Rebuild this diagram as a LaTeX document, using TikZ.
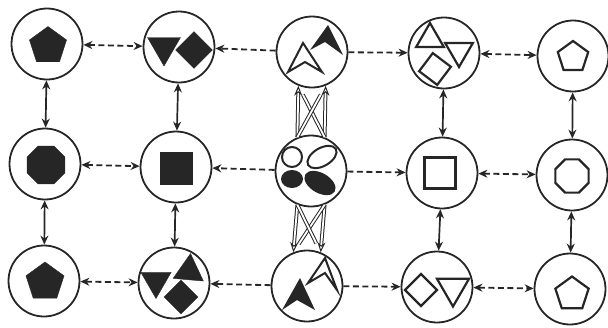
\documentclass[tikz,border=0pt]{standalone}
\usepackage{xcolor}
\usepackage{tikz}
\usetikzlibrary{shapes.geometric,positioning,calc,arrows.meta}
\definecolor{ink}{HTML}{262626}

\begin{document}
\begin{tikzpicture}[x=1pt, y=-1pt,
  ring/.style={circle, draw=ink, line width=1.8pt, minimum size=71pt, inner sep=0pt},
  fpoly/.style={regular polygon, regular polygon sides=#1, fill=ink, draw=ink, inner sep=0pt},
  hpoly/.style={regular polygon, regular polygon sides=#1, draw=ink, line width=2.2pt, inner sep=0pt},
  fdia/.style={diamond, aspect=1, fill=ink, draw=ink, inner sep=0pt},
  hdia/.style={diamond, aspect=1, draw=ink, line width=2.2pt, inner sep=0pt},
  hline/.style={draw=ink, line width=2pt, line join=miter},
  link/.style={draw=ink, line width=1.8pt, dash pattern=on 6pt off 3.5pt},
  both/.style={{Stealth[length=9pt,width=8pt]}-{Stealth[length=9pt,width=8pt]}},
  tip/.style={-{Stealth[length=9pt,width=8pt]}},
  vlink/.style={draw=ink, line width=1.7pt, both},
  swap/.style={draw=ink, double=white, line width=1pt, double distance=1.8pt}]
  \useasboundingbox (0,0) rectangle (608,327);

  % Circles of the grid
  \foreach \n/\x/\y in {t1/47/44, t2/179/47, t3/312/52, t4/444/53, t5/573/56,
                        m1/45/164, m2/176/167, m3/311/171, m4/442/173, m5/572/175,
                        b1/44/281, b2/174/283, b3/307/286, b4/437/287, b5/570/289}
    \node[ring] (\n) at (\x,\y) {};

  % Top row
  \node[fpoly=5, minimum size=39pt] (t1s) at ($(t1)+(1,2)$) {};
  \node[fpoly=3, minimum size=38pt, shape border rotate=180] (t2a) at ($(t2)+(-15,0)$) {};
  \node[fdia, minimum size=37pt] (t2b) at ($(t2)+(15,3)$) {};
  \draw[hline, shift={(t3)}] (-9,-9) -- (-24,20) -- (-7,10) -- (10,20) -- cycle;
  \fill[ink, shift={(t3)}] (16,-27) -- (-2,-2) -- (13,-10) -- (31,3) -- cycle;
  \node[hpoly=3, minimum size=32pt] (t4a) at ($(t4)+(-14,-14)$) {};
  \node[hpoly=3, minimum size=32pt, shape border rotate=180] (t4b) at ($(t4)+(15,-2)$) {};
  \node[hdia, minimum size=33pt, rotate=8] (t4c) at ($(t4)+(-9,16)$) {};
  \node[hpoly=5, minimum size=32pt] (t5s) at ($(t5)+(0,1)$) {};

  % Middle row
  \node[fpoly=8, minimum size=41pt] (m1s) at ($(m1)+(1,1)$) {};
  \node[fill=ink, minimum size=33pt, inner sep=0pt] (m2s) at ($(m2)+(0,1)$) {};
  \draw[hline, shift={(m3)}] (-19,-14) circle [radius=10];
  \draw[hline, shift={(m3)}, rotate around={30:(11,-14)}] (11,-14) ellipse [x radius=16, y radius=9];
  \fill[ink, shift={(m3)}] (-19,8) ellipse [x radius=11, y radius=9];
  \fill[ink, shift={(m3)}, rotate around={-30:(9,12)}] (9,12) ellipse [x radius=17, y radius=10];
  \node[draw=ink, line width=2.2pt, minimum size=31pt, inner sep=0pt] (m4s) at ($(m4)+(-2,0)$) {};
  \node[hpoly=8, minimum size=36pt] (m5s) at ($(m5)+(0,1)$) {};

  % Bottom row
  \node[fpoly=5, minimum size=40pt] (b1s) at ($(b1)+(1,1)$) {};
  \node[fpoly=3, minimum size=35pt, shape border rotate=180] (b2a) at ($(b2)+(-18,-2)$) {};
  \node[fpoly=3, minimum size=35pt, rotate=-5] (b2b) at ($(b2)+(15,-12)$) {};
  \node[fdia, minimum size=34pt] (b2c) at ($(b2)+(7,14)$) {};
  \fill[ink, shift={(b3)}] (-7,-8) -- (-25,24) -- (-10,14) -- (8,24) -- cycle;
  \draw[hline, shift={(b3)}] (18,-28) -- (1,-3) -- (18,-13) -- (30,4) -- cycle;
  \node[hdia, minimum size=33pt] (b4a) at ($(b4)+(-16,3)$) {};
  \node[hpoly=3, minimum size=37pt, shape border rotate=180] (b4b) at ($(b4)+(16,1)$) {};
  \node[hpoly=5, minimum size=35pt] (b5s) at ($(b5)+(2,5)$) {};

  % Dashed links between columns
  \foreach \r in {t,m,b} {
    \draw[link, both] (\r1) -- (\r2);
    \draw[link, tip] (\r3) -- (\r2);
    \draw[link, tip] (\r3) -- (\r4);
    \draw[link, both] (\r4) -- (\r5);
  }

  % Solid links between rows
  \foreach \c in {1,2,4,5} {
    \draw[vlink] (t\c) -- (m\c);
    \draw[vlink] (m\c) -- (b\c);
  }

  % Crossed hollow arrows in the middle column
  \draw[swap, -{Stealth[open,length=10pt,width=8pt]}] (m3.112) -- (t3.-112);
  \draw[swap, -{Stealth[open,length=10pt,width=8pt]}] (m3.68) -- (t3.-68);
  \draw[swap, shorten <=10pt] (t3.-112) -- (m3.68);
  \draw[swap, shorten <=10pt] (t3.-68) -- (m3.112);
  \draw[swap, -{Stealth[open,length=10pt,width=8pt]}] (m3.-112) -- (b3.112);
  \draw[swap, -{Stealth[open,length=10pt,width=8pt]}] (m3.-68) -- (b3.68);
  \draw[swap, shorten <=10pt] (b3.112) -- (m3.-68);
  \draw[swap, shorten <=10pt] (b3.68) -- (m3.-112);
\end{tikzpicture}
\end{document}
